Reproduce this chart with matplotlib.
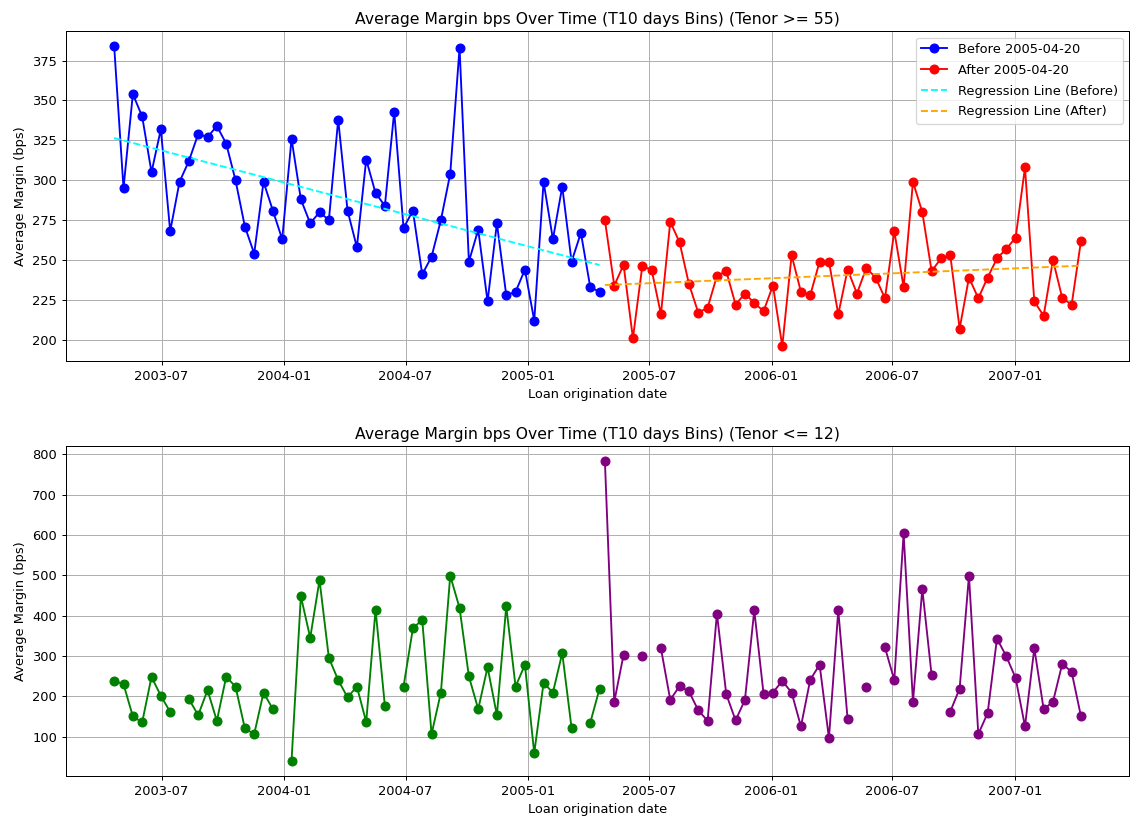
"""
    average margin over time, before / after split date
"""
import numpy as np
import pandas as pd

import matplotlib
matplotlib.use("Agg")
import matplotlib.pyplot as plt
import matplotlib.dates as mdates

nan = np.nan

# bin dates (14 day bins)
dates_before = pd.date_range(end="2005-04-18", periods=53, freq="14D")
dates_after = pd.date_range(start="2005-04-26", periods=52, freq="14D")

# tenor >= 55
margin_long_before = [384, 295, 354, 340, 305, 332, 268, 299, 312, 329,
                      327, 334, 323, 300, 271, 254, 299, 281, 263, 326,
                      288, 273, 280, 275, 338, 281, 258, 313, 292, 284,
                      343, 270, 281, 241, 252, 275, 304, 383, 249, 269,
                      224, 273, 228, 230, 244, 212, 299, 263, 296, 249,
                      267, 233, 230]
margin_long_after = [275, 234, 247, 201, 246, 244, 216, 274, 261, 235,
                     217, 220, 240, 243, 222, 229, 223, 218, 234, 196,
                     253, 230, 228, 249, 249, 216, 244, 229, 245, 239,
                     226, 268, 233, 299, 280, 243, 251, 253, 207, 239,
                     226, 239, 251, 257, 264, 308, 224, 215, 250, 226,
                     222, 262]

# tenor <= 12 (empty bins are nan)
margin_short_before = [238, 230, 150, 135, 248, 201, 161, nan, 193, 153,
                       215, 139, 248, 224, 120, 106, 209, 168, nan, 39,
                       448, 345, 488, 295, 240, 197, 224, 136, 415, 176,
                       nan, 224, 368, 390, 106, 209, 499, 419, 249, 168,
                       272, 153, 423, 224, 278, 59, 233, 209, 307, 121,
                       nan, 134, 219]
margin_short_after = [783, 186, 303, nan, 300, nan, 319, 191, 225, 212,
                      165, 139, 405, 205, 140, 191, 413, 205, 209, 238,
                      209, 125, 241, 278, 96, 413, 143, nan, 224, nan,
                      321, 240, 604, 186, 466, 252, nan, 162, 219, 499,
                      106, 158, 343, 299, 245, 125, 319, 168, 186, 281,
                      260, 150]

split_date = "2005-04-20"

plt.rcParams["font.size"] = 10.4


def reg_line(dates, values):
    # simple linear fit on date numbers
    x = mdates.date2num(dates)
    y = np.array(values, dtype=float)
    coef = np.polyfit(x, y, 1)
    return np.polyval(coef, x)


fig, (ax1, ax2) = plt.subplots(2, 1, figsize=(1135 / 90, 823 / 90), dpi=90)
fig.subplots_adjust(left=0.058, right=0.995, top=0.962, bottom=0.057, hspace=0.258)

# top panel
ax1.plot(dates_before, margin_long_before, marker="o", markersize=7, color="blue",
         label=f"Before {split_date}")
ax1.plot(dates_after, margin_long_after, marker="o", markersize=7, color="red",
         label=f"After {split_date}")
ax1.plot(dates_before, reg_line(dates_before, margin_long_before),
         linestyle="--", color="cyan", label="Regression Line (Before)")
ax1.plot(dates_after, reg_line(dates_after, margin_long_after),
         linestyle="--", color="orange", label="Regression Line (After)")
ax1.set_title("Average Margin bps Over Time (T10 days Bins) (Tenor >= 55)")
ax1.set_xlabel("Loan origination date")
ax1.set_ylabel("Average Margin (bps)")
ax1.legend(loc="upper right", labelspacing=0.6)
ax1.grid(True)

# bottom panel
ax2.plot(dates_before, margin_short_before, marker="o", markersize=7, color="green")
ax2.plot(dates_after, margin_short_after, marker="o", markersize=7, color="purple")
ax2.set_title("Average Margin bps Over Time (T10 days Bins) (Tenor <= 12)")
ax2.set_xlabel("Loan origination date")
ax2.set_ylabel("Average Margin (bps)")
ax2.grid(True)

for ax in (ax1, ax2):
    ax.xaxis.set_major_locator(mdates.MonthLocator(bymonth=[1, 7]))
    ax.xaxis.set_major_formatter(mdates.DateFormatter("%Y-%m"))

plt.savefig("out.png", dpi=90)
